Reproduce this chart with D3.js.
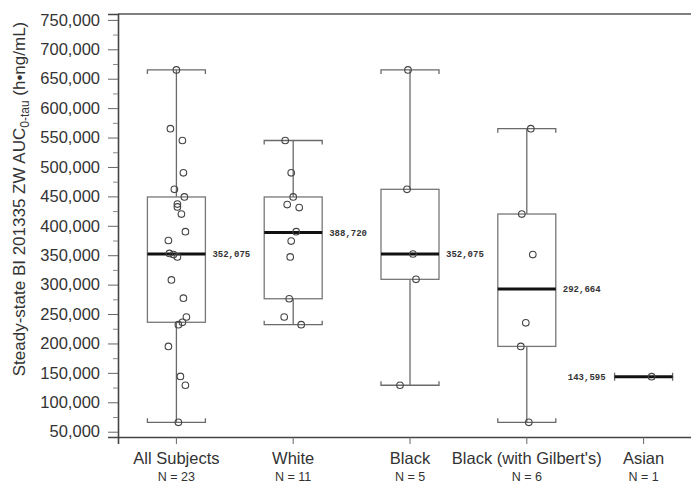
<!DOCTYPE html>
<html>
<head>
<meta charset="utf-8">
<script src="https://cdn.jsdelivr.net/npm/d3@7"></script>
<style>
	body { margin: 0; background: #fff; }
	svg { display: block; }
	text { font-family: 'Liberation Sans', Arial, sans-serif; fill: #333; }
</style>
</head>
<body>
<svg id="chart" width="691" height="483"></svg>
<script>
// groups on the x axis
const groups = ['All Subjects', 'White', 'Black', "Black (with Gilbert's)", 'Asian'];
const groupN = [23, 11, 5, 6, 1];

// box statistics per group (min, q1, median, q3, max)
const mins    = [66000, 232000, 129000, 66000, 143595];
const q1s     = [236000, 276000, 309000, 195000, 143595];
const medians = [352075, 388720, 352075, 292664, 143595];
const q3s     = [449000, 449000, 462000, 420000, 143595];
const maxs    = [665000, 545000, 665000, 565000, 143595];

// individual subjects (value, horizontal jitter in px as seen on the picture)
const allValues = [665000, 565000, 545000, 490000, 462000, 449000, 437000, 432000, 420000, 390000, 375000, 353000,
	351000, 347000, 308000, 277000, 245000, 236000, 232000, 195000, 144000, 129000, 66000];
const allJitter = [0, -6, 6, 7, -2, 8, 1, 1, 5, 9, -8, -7, -3, 1, -5, 7, 10, 6, 2, -8, 4, 9, 2];
const whiteValues = [545000, 490000, 449000, 436000, 431000, 390000, 374000, 347000, 276000, 245000, 232000];
const whiteJitter = [-8, -2, 0, -6, 6, 3, -2, -3, -4, -9, 8];
const blackValues = [665000, 462000, 352075, 309000, 129000];
const blackJitter = [-2, -3, 3, 6, -10];
const gilbertValues = [565000, 420000, 351000, 235000, 195000, 66000];
const gilbertJitter = [4, -5, 6, -1, -6, 2];
const asianValues = [143595];
const asianJitter = [8];

const yTicks = d3.range(50000, 750001, 50000);
const yMinorTicks = d3.range(75000, 750000, 50000);

const pointSets = [
	[allValues, allJitter],
	[whiteValues, whiteJitter],
	[blackValues, blackJitter],
	[gilbertValues, gilbertJitter],
	[asianValues, asianJitter]
];

let svg = d3.select('#chart'),
	margin = {left: 118, top: 14, bottom: 437, right: 702};

let x = d3.scaleBand().domain(groups).range([margin.left, margin.right]).padding(0),
	y = d3.scaleLinear().domain([41000, 760000]).range([margin.bottom, margin.top]);

const halfBox = 29, capTick = 4;
const cx = g => x(g) + x.bandwidth() / 2;

// frame: top line only (right edge is outside the picture)
svg.append('line')
	.attr('x1', margin.left).attr('x2', margin.right)
	.attr('y1', margin.top).attr('y2', margin.top)
	.attr('stroke', '#555').attr('stroke-width', 1.6);

// y axis, major + minor ticks
let yAxis = svg.append('g')
	.attr('transform', 'translate(' + margin.left + ',0)')
	.call(d3.axisLeft(y).tickValues(yTicks).tickSize(10).tickPadding(8).tickFormat(d3.format(',')));
yAxis.select('.domain').attr('stroke', '#444').attr('stroke-width', 1.6);
yAxis.selectAll('.tick line').attr('stroke', '#666');
yAxis.selectAll('text').attr('font-size', '16.5px').attr('fill', '#333')
	.style('font-family', "'Liberation Sans', Arial, sans-serif");

svg.append('g')
	.attr('transform', 'translate(' + margin.left + ',0)')
	.call(d3.axisLeft(y).tickValues(yMinorTicks).tickSize(5).tickFormat(''))
	.call(g => g.select('.domain').remove())
	.selectAll('.tick line').attr('stroke', '#888');

// x axis
let xAxis = svg.append('g')
	.attr('transform', 'translate(0,' + margin.bottom + ')')
	.call(d3.axisBottom(x).tickSize(7).tickFormat(''));
xAxis.select('.domain').attr('stroke', '#444').attr('stroke-width', 1.6);
xAxis.selectAll('.tick line').attr('stroke', '#666');

let xLabels = svg.append('g');
xLabels.selectAll('.cat')
	.data(groups)
	.enter().append('text')
	.attr('class', 'cat')
	.attr('x', d => cx(d))
	.attr('y', 464)
	.attr('text-anchor', 'middle')
	.attr('font-size', '16.5px')
	.text(d => d);
xLabels.selectAll('.n')
	.data(groups)
	.enter().append('text')
	.attr('class', 'n')
	.attr('x', d => cx(d))
	.attr('y', 481)
	.attr('text-anchor', 'middle')
	.attr('font-size', '12.5px')
	.text((d, i) => 'N = ' + groupN[i]);

// y axis title
let title = svg.append('text')
	.attr('transform', 'translate(25,199) rotate(-90)')
	.attr('text-anchor', 'middle')
	.attr('font-size', '17px');
title.append('tspan').text('Steady-state BI 201335 ZW AUC');
title.append('tspan').attr('font-size', '12px').attr('dy', 4).text('0-tau');
title.append('tspan').attr('dy', -4).text(' (h\u2022ng/mL)');

// boxes
let boxes = svg.selectAll('.box')
	.data(groups)
	.enter().append('g')
	.attr('class', 'box');

const stroke = '#6a6a6a';

// whiskers
boxes.append('line')
	.attr('x1', d => cx(d)).attr('x2', d => cx(d))
	.attr('y1', (d, i) => y(q3s[i])).attr('y2', (d, i) => y(maxs[i]))
	.attr('stroke', stroke).attr('stroke-width', 1.3);
boxes.append('line')
	.attr('x1', d => cx(d)).attr('x2', d => cx(d))
	.attr('y1', (d, i) => y(q1s[i])).attr('y2', (d, i) => y(mins[i]))
	.attr('stroke', stroke).attr('stroke-width', 1.3);

// caps (ticks point towards the box)
boxes.append('path')
	.attr('d', (d, i) => {
		let c = cx(d), ym = y(maxs[i]);
		return 'M' + (c - halfBox) + ',' + (ym + capTick) + 'V' + ym + 'H' + (c + halfBox) + 'V' + (ym + capTick);
	})
	.attr('fill', 'none').attr('stroke', stroke).attr('stroke-width', 1.3);
boxes.append('path')
	.attr('d', (d, i) => {
		let c = cx(d), ym = y(mins[i]);
		return 'M' + (c - halfBox) + ',' + (ym - capTick) + 'V' + ym + 'H' + (c + halfBox) + 'V' + (ym - capTick);
	})
	.attr('fill', 'none').attr('stroke', stroke).attr('stroke-width', 1.3);

// box body
boxes.filter((d, i) => q3s[i] > q1s[i]).append('rect')
	.attr('x', d => cx(d) - halfBox)
	.attr('y', d => y(q3s[groups.indexOf(d)]))
	.attr('width', halfBox * 2)
	.attr('height', d => y(q1s[groups.indexOf(d)]) - y(q3s[groups.indexOf(d)]))
	.attr('fill', 'none').attr('stroke', '#777').attr('stroke-width', 1.3);

// median
boxes.append('line')
	.attr('x1', d => cx(d) - halfBox).attr('x2', d => cx(d) + halfBox)
	.attr('y1', (d, i) => y(medians[i])).attr('y2', (d, i) => y(medians[i]))
	.attr('stroke', '#111').attr('stroke-width', 3);

// median labels (Asian one sits to the left)
boxes.append('text')
	.attr('x', (d, i) => i === 4 ? cx(d) - halfBox - 9 : cx(d) + halfBox + 7)
	.attr('y', (d, i) => y(medians[i]))
	.attr('dy', '0.35em')
	.attr('text-anchor', (d, i) => i === 4 ? 'end' : 'start')
	.attr('font-size', '9px')
	.attr('font-weight', 'bold')
	.style('font-family', "'Liberation Mono', 'DejaVu Sans Mono', monospace")
	.attr('fill', '#333')
	.text((d, i) => d3.format(',')(medians[i]));

// subject points
pointSets.forEach((set, gi) => {
	svg.append('g').selectAll('circle')
		.data(set[0])
		.enter().append('circle')
		.attr('cx', (d, i) => cx(groups[gi]) + set[1][i])
		.attr('cy', d => y(d))
		.attr('r', 3.3)
		.attr('fill', 'none')
		.attr('stroke', '#444')
		.attr('stroke-width', 1.1);
});
</script>
</body>
</html>
